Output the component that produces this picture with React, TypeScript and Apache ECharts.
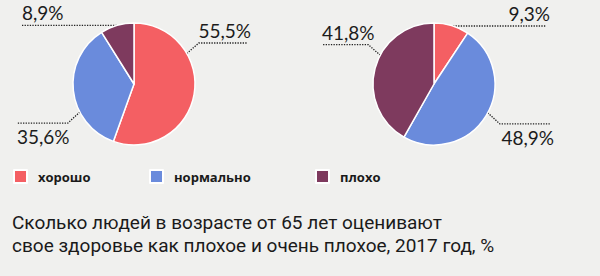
import React, { useEffect, useRef } from 'react';
import * as echarts from 'echarts';

const categories = ['хорошо', 'нормально', 'плохо'];
const colors = ['#f45f63', '#6a8bdc', '#7e3a5e'];
const pieLeft = [55.5, 35.6, 8.9];
const pieRight = [9.3, 48.9, 41.8];
const titleLines = [
  'Сколько людей в возрасте от 65 лет оценивают',
  'свое здоровье как плохое и очень плохое, 2017 год, %',
];

const CENTERS = [[134, 84], [434, 84]];
const R = 61;
// label anchor angles (deg, clockwise from top), per series / data index
const ANCHOR = [[60, 242.6, 343.7], [18.1, 118.2, 298.2]];
const ELBOW = [[true, true, false], [false, true, true]];
const REACH = [[113, -117, -112], [112, 116, -112]];
const LEGEND_LEFT = [13, 149, 315];
const TITLE_TOP = [211, 234];

const fmt = (v: number) => v.toFixed(1).replace('.', ',') + '%';

export default function App() {
  const ref = useRef<HTMLDivElement>(null);
  useEffect(() => {
    if (!ref.current) return;
    const chart = echarts.init(ref.current, undefined, { renderer: 'svg' });
    const mkSeries = (vals: number[], s: number) => ({
      type: 'pie',
      center: CENTERS[s],
      radius: R,
      startAngle: 90,
      clockwise: true,
      avoidLabelOverlap: false,
      data: vals.map((v, i) => ({ name: categories[i], value: v, itemStyle: { color: colors[i] } })),
      itemStyle: { borderColor: '#ffffff', borderWidth: 1.5 },
      emphasis: { disabled: true },
      label: {
        show: true,
        position: 'outside',
        formatter: (p: any) => fmt(p.value),
        fontFamily: 'Lato',
        fontSize: 19,
        color: '#1c1c1c',
      },
      labelLine: {
        show: true,
        lineStyle: { type: 'dotted', color: '#222', width: 1.3 },
      },
      labelLayout: (params: any) => {
        const i = params.dataIndex;
        const [cx, cy] = CENTERS[s];
        const a = (ANCHOR[s][i] * Math.PI) / 180;
        const ax = cx + R * Math.sin(a);
        const ay = cy - R * Math.cos(a);
        const right = REACH[s][i] > 0;
        const up = Math.cos(a) > 0;
        const endX = cx + REACH[s][i];
        let pts: number[][];
        let ly: number;
        if (ELBOW[s][i]) {
          const ex = ax + (right ? 12 : -12);
          const ey = ay + (up ? -10.5 : 11);
          ly = ey;
          pts = [[ax, ay], [ex, ey], [endX, ey]];
        } else {
          ly = ay;
          pts = [[ax, ay], [(ax + endX) / 2, ay], [endX, ay]];
        }
        return {
          x: right ? endX + 4 : endX,
          y: up ? ly - 3 : ly + 4,
          align: right ? 'right' : 'left',
          verticalAlign: up ? 'bottom' : 'top',
          labelLinePoints: pts,
        };
      },
    });
    chart.setOption({
      animation: false,
      backgroundColor: '#f0f0ee',
      title: titleLines.map((t, i) => ({
        text: t,
        left: 12,
        top: TITLE_TOP[i],
        padding: 0,
        textStyle: {
          fontFamily: 'Roboto',
          fontSize: 19,
          fontWeight: 'normal',
          lineHeight: 22,
          color: '#1a1a1a',
        },
      })),
      legend: categories.map((c, i) => ({
        data: [c],
        left: LEGEND_LEFT[i],
        top: 169,
        padding: 0,
        itemWidth: 13,
        itemHeight: 13,
        icon: 'rect',
        selectedMode: false,
        textStyle: {
          fontFamily: 'Open Sans',
          fontWeight: 'bold',
          fontSize: 13,
          color: '#1a1a1a',
          padding: [0, 0, 0, 6],
        },
      })),
      series: [mkSeries(pieLeft, 0), mkSeries(pieRight, 1)],
    });
    return () => chart.dispose();
  }, []);
  return (
    <div style={{ position: 'fixed', left: 0, top: 0, width: 600, height: 276 }}>
      <div ref={ref} style={{ width: 600, height: 276 }} />
    </div>
  );
}
